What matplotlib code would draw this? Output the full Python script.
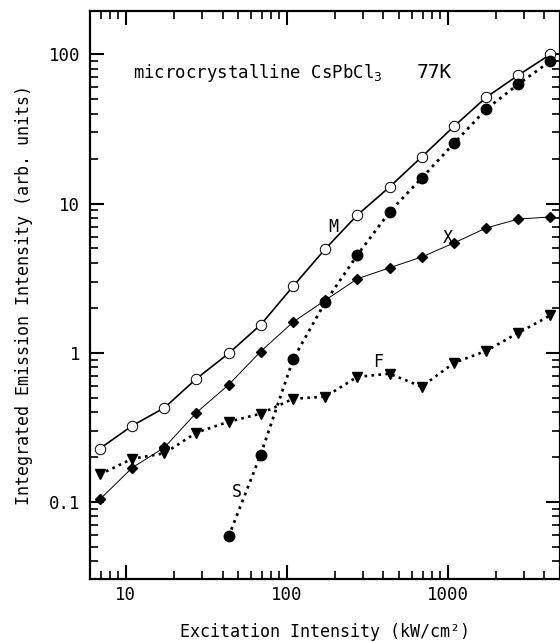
import matplotlib
matplotlib.use("Agg")
import matplotlib.pyplot as plt
from matplotlib.ticker import LogLocator, FixedLocator, FixedFormatter, NullFormatter

plt.rcParams['font.family'] = ['DejaVu Sans Mono', 'DejaVu Sans']

# excitation intensity (kW/cm2), 0.2-decade steps
x_all = [6.9, 11, 17.4, 27.5, 43.6, 69, 110, 174, 275, 436, 690, 1100, 1740, 2750, 4360]

m_vals = [0.228, 0.325, 0.428, 0.67, 0.99, 1.54, 2.8, 4.97, 8.37, 12.9, 20.5, 33.0, 51.5, 72.4, 100]
x_vals = [0.104, 0.170, 0.232, 0.397, 0.61, 1.02, 1.61, 2.25, 3.13, 3.71, 4.38, 5.45, 6.86, 7.87, 8.13]
f_vals = [0.153, 0.195, 0.212, 0.292, 0.345, 0.391, 0.492, 0.508, 0.69, 0.724, 0.593, 0.857, 1.03, 1.36, 1.78]
s_x = x_all[4:]
s_vals = [0.0588, 0.208, 0.91, 2.19, 4.52, 8.77, 14.8, 25.4, 42.9, 63, 90]

ytick_vals = [0.1, 1, 10, 100]
ytick_text = ['0.1', '1', '10', '100']
xtick_vals = [10, 100, 1000]
xtick_text = ['10', '100', '1000']

fig = plt.figure(figsize=(5.6, 6.42), dpi=100)
ax = fig.add_axes([90 / 560, 63 / 642, 470 / 560, 568 / 642])

ax.plot(x_all, m_vals, '-', color='black', lw=1.2, marker='o', mfc='white', mec='black',
        mew=0.7, ms=7.5, zorder=3)
ax.plot(x_all, x_vals, '-', color='black', lw=0.7, marker='D', mfc='black', mec='black',
        ms=5.5, zorder=4)
ax.plot(x_all, f_vals, ':', color='black', lw=1.9, marker='v', mfc='black', mec='black',
        ms=7, zorder=4)
ax.plot(s_x, s_vals, ':', color='black', lw=2.0, marker='o', mfc='black', mec='black',
        ms=7.5, zorder=5)

ax.set_xscale('log')
ax.set_yscale('log')
ax.set_xlim(6, 5000)
ax.set_ylim(0.0305, 195)

ax.xaxis.set_major_locator(FixedLocator(xtick_vals))
ax.xaxis.set_major_formatter(FixedFormatter(xtick_text))
ax.yaxis.set_major_locator(FixedLocator(ytick_vals))
ax.yaxis.set_major_formatter(FixedFormatter(ytick_text))
ax.xaxis.set_minor_locator(LogLocator(base=10, subs=range(2, 10)))
ax.yaxis.set_minor_locator(LogLocator(base=10, subs=range(2, 10)))
ax.xaxis.set_minor_formatter(NullFormatter())
ax.yaxis.set_minor_formatter(NullFormatter())

ax.tick_params(which='both', direction='in', top=True, right=True, labelsize=12.5)
ax.tick_params(which='major', length=10, width=1.5)
ax.tick_params(which='minor', length=6, width=1.2)
ax.tick_params(axis='y', pad=7)
ax.tick_params(axis='x', pad=5)
for sp in ax.spines.values():
    sp.set_linewidth(1.6)

ax.set_xlabel('Excitation Intensity (kW/cm²)', fontsize=12, labelpad=14)
ax.set_ylabel('Integrated Emission Intensity (arb. units)', fontsize=12, labelpad=11)

ax.text(133, 642 - 73, 'microcrystalline CsPbCl$_3$', transform=None, fontsize=12.5,
        va='center', ha='left')
ax.text(417, 642 - 73, '77K', transform=None, fontsize=14, va='center', ha='left')
ax.annotate('M', xy=(333, 642 - 227), xycoords='figure pixels', fontsize=12, ha='center', va='center')
ax.annotate('X', xy=(448, 642 - 238), xycoords='figure pixels', fontsize=12, ha='center', va='center')
ax.annotate('F', xy=(378, 642 - 362), xycoords='figure pixels', fontsize=12, ha='center', va='center')
ax.annotate('S', xy=(237, 642 - 492), xycoords='figure pixels', fontsize=12, ha='center', va='center')

fig.savefig('out.png', dpi=100)
